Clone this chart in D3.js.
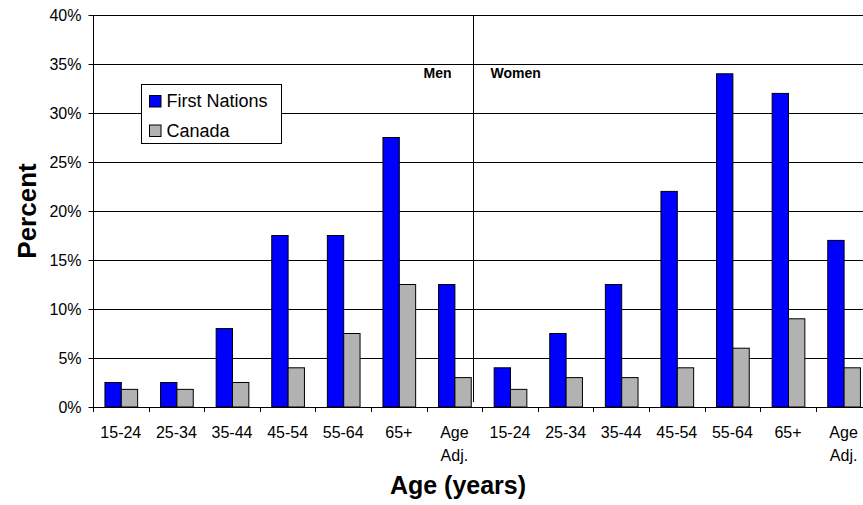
<!DOCTYPE html>
<html>
<head>
<meta charset="utf-8">
<script src="https://cdn.jsdelivr.net/npm/d3@7"></script>
<style>
  html, body { margin: 0; padding: 0; background: #fff; }
  svg { display: block; font-family: "Liberation Sans", Arial, sans-serif; }
</style>
</head>
<body>
<svg id="chart" width="863" height="505"></svg>
<script>
// Age bands shown for each sex
const ageGroups = ["15-24", "25-34", "35-44", "45-54", "55-64", "65+", "Age Adj."];
const sexes = ["Men", "Women"];

// Percent values per age band
const firstNationsMen   = [2.5, 2.5, 8, 17.5, 17.5, 27.5, 12.5];
const canadaMen         = [1.8, 1.8, 2.5, 4, 7.5, 12.5, 3];
const firstNationsWomen = [4, 7.5, 12.5, 22, 34, 32, 17];
const canadaWomen       = [1.8, 3, 3, 4, 6, 9, 4];

const seriesNames = ["First Nations", "Canada"];
const yTicks = [0, 5, 10, 15, 20, 25, 30, 35, 40];

// Flatten into one row per category (Men bands first, then Women bands)
const rows = [];
sexes.forEach((sex, s) => {
  const fn = s === 0 ? firstNationsMen : firstNationsWomen;
  const ca = s === 0 ? canadaMen : canadaWomen;
  ageGroups.forEach((age, i) => {
    rows.push({ key: sex + "|" + age, sex, age, values: [fn[i], ca[i]] });
  });
});

const W = 863, H = 505;
const plotLeft = 93, plotTop = 15, plotBottom = 407;
const step = 55.6;
const plotRight = plotLeft + step * rows.length;

const svg = d3.select("#chart");
const colors = ["#0000ff", "#b2b2b2"];

const x = d3.scaleBand().domain(rows.map(r => r.key)).range([plotLeft, plotRight]).paddingInner(0).paddingOuter(0);
const barW = x.bandwidth() * 0.294;
const y = d3.scaleLinear().domain([0, 40]).range([plotBottom, plotTop]);

// Horizontal gridlines
svg.append("g").selectAll("line").data(yTicks).join("line")
  .attr("x1", plotLeft).attr("x2", W)
  .attr("y1", d => Math.round(y(d)) + 0.5).attr("y2", d => Math.round(y(d)) + 0.5)
  .attr("stroke", "#000").attr("stroke-width", 1);

// Divider between the Men and Women panels
const lastMen = rows[ageGroups.length - 1].key;
const divX = Math.round(x(lastMen) + x.bandwidth() * 0.84) + 0.5;
svg.append("line")
  .attr("x1", divX).attr("x2", divX)
  .attr("y1", y(40)).attr("y2", y(0.5))
  .attr("stroke", "#000").attr("stroke-width", 1);

// Panel titles
svg.append("text").attr("x", divX - 36).attr("y", 78).attr("text-anchor", "middle")
  .attr("font-size", 14).attr("font-weight", "bold").text(sexes[0]);
svg.append("text").attr("x", divX + 17).attr("y", 78).attr("text-anchor", "start")
  .attr("font-size", 14).attr("font-weight", "bold").text(sexes[1]);

// Bars
const groups = svg.append("g").selectAll("g").data(rows).join("g")
  .attr("transform", d => `translate(${x(d.key) + (x.bandwidth() - 2 * barW) / 2},0)`);
groups.selectAll("rect").data(d => d.values).join("rect")
  .attr("x", (d, i) => i * barW + 0.5)
  .attr("y", d => y(d))
  .attr("width", barW)
  .attr("height", d => y(0) - y(d))
  .attr("fill", (d, i) => colors[i])
  .attr("stroke", "#000").attr("stroke-width", 1);

// Y axis
const yAxis = svg.append("g").attr("transform", `translate(${plotLeft + 0.5},0)`)
  .call(d3.axisLeft(y).tickValues(yTicks).tickSize(5).tickPadding(7).tickFormat(d => d + "%"));
yAxis.select(".domain").attr("d", `M0,${y(40)}V${y(0)}`).attr("stroke", "#000");
yAxis.selectAll(".tick line").attr("stroke", "#000");
yAxis.selectAll(".tick text").attr("font-size", 16).attr("font-family", "Liberation Sans, Arial, sans-serif").attr("fill", "#000");

// X axis line and band-boundary ticks
const xAxis = svg.append("g");
xAxis.append("line").attr("x1", plotLeft).attr("x2", W)
  .attr("y1", Math.round(y(0)) + 0.5).attr("y2", Math.round(y(0)) + 0.5).attr("stroke", "#000");
const bounds = rows.map(r => x(r.key)).concat([plotRight]);
xAxis.selectAll("line.tk").data(bounds).join("line").attr("class", "tk")
  .attr("x1", d => Math.round(d) + 0.5).attr("x2", d => Math.round(d) + 0.5)
  .attr("y1", y(0)).attr("y2", y(0) + 5).attr("stroke", "#000");

// Category labels, centred in each band (two-word labels wrap onto two lines)
const lbl = xAxis.selectAll("text.cat").data(rows).join("text").attr("class", "cat")
  .attr("text-anchor", "middle").attr("font-size", 16)
  .attr("transform", d => `translate(${x(d.key) + x.bandwidth() / 2},438)`);
lbl.selectAll("tspan").data(d => d.age.split(" ")).join("tspan")
  .attr("x", 0).attr("y", (d, i) => i * 23).text(d => d);

// Axis titles
svg.append("text").attr("x", 458).attr("y", 494).attr("text-anchor", "middle")
  .attr("font-size", 25).attr("font-weight", "bold").text("Age (years)");
svg.append("text").attr("transform", "translate(36,211) rotate(-90)").attr("text-anchor", "middle")
  .attr("font-size", 26).attr("font-weight", "bold").text("Percent");

// Legend
const lg = svg.append("g").attr("transform", "translate(141.5,84.5)");
lg.append("rect").attr("width", 140).attr("height", 59).attr("fill", "#fff").attr("stroke", "#000");
seriesNames.forEach((name, i) => {
  const row = lg.append("g").attr("transform", `translate(8,${11 + i * 29.5})`);
  row.append("rect").attr("width", 11.5).attr("height", 11.5).attr("fill", colors[i]).attr("stroke", "#000");
  row.append("text").attr("x", 17).attr("y", 11.5).attr("font-size", 18).text(name);
});
</script>
</body>
</html>
